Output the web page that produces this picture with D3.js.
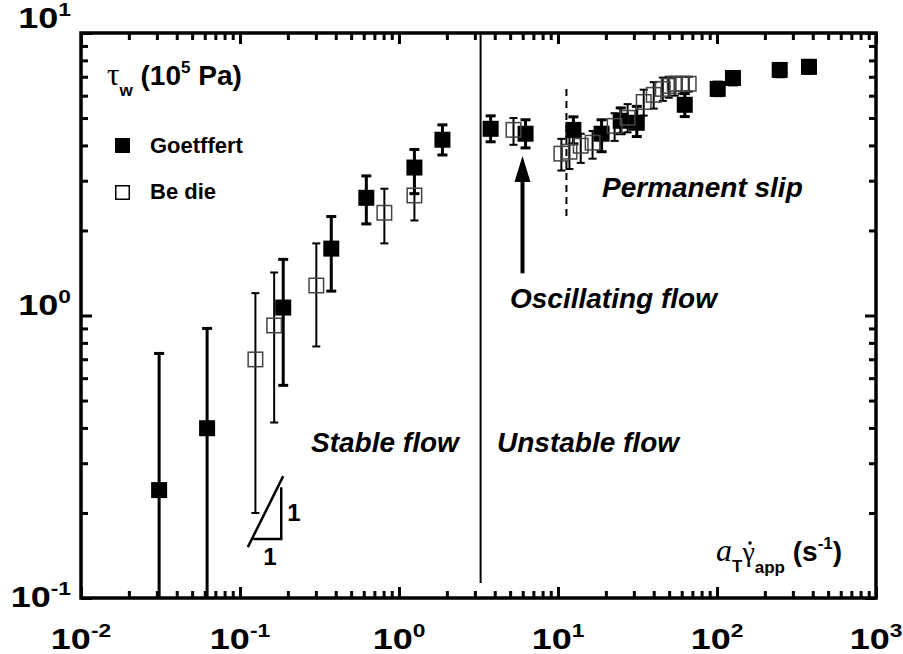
<!DOCTYPE html>
<html><head><meta charset="utf-8">
<script src="https://cdn.jsdelivr.net/npm/d3@7"></script>
<style>body{margin:0;background:#fff}svg{display:block}</style>
</head><body>
<svg id="c" width="903" height="654"></svg>
<script>
// ---------- data ----------
const xDomain = [0.01, 1000];
const yDomain = [0.1, 10];
const xTickExps = [-2, -1, 0, 1, 2, 3];
const yTickExps = [-1, 0, 1];

// Goetffert (filled squares)
const goetX  = [0.031, 0.0621, 0.187, 0.375, 0.623, 1.25, 1.876, 3.77, 6.25, 12.5, 18.8, 24.8, 31.3, 62.7, 101, 126, 248, 379];
const goetY  = [0.241, 0.399, 1.067, 1.725, 2.61, 3.34, 4.19, 4.58, 4.40, 4.54, 4.40, 4.89, 4.81, 5.57, 6.34, 6.93, 7.40, 7.59];
const goetLo = [0.05, 0.05, 0.566, 1.22, 2.11, 2.7, 3.7, 4.12, 3.92, 4.05, 3.8, 4.4, 4.3, 5.06, 6.0, 6.55, 7.0, 7.2];
const goetHi = [0.734, 0.90, 1.58, 2.24, 3.12, 3.87, 4.73, 5.09, 4.93, 5.05, 4.93, 5.43, 5.5, 6.1, 6.7, 7.3, 7.8, 8.0];

// Be die (open squares)
const bedieX  = [0.125, 0.164, 0.302, 0.809, 1.25, 5.25, 10.5, 11.8, 13.9, 16.5, 22.7, 27.4, 34.6, 40.0, 45.6, 49.7, 54.2, 60.0, 66.4];
const bedieY  = [0.699, 0.922, 1.277, 2.31, 2.66, 4.54, 3.74, 3.80, 3.99, 4.09, 4.69, 5.01, 5.70, 6.04, 6.34, 6.50, 6.61, 6.61, 6.61];
const bedieLo = [0.2, 0.418, 0.777, 1.80, 2.17, 4.02, 3.26, 3.3, 3.47, 3.59, 4.15, 4.45, 5.1, 5.4, 5.75, 5.9, 6.0, 6.1, 6.2];
const bedieHi = [1.2, 1.42, 1.80, 2.81, 3.2, 5.0, 4.22, 4.3, 4.4, 4.5, 5.2, 5.6, 6.3, 6.7, 6.95, 7.0, 7.0, 7.0, 7.0];

const seriesNames = ["Goetffert", "Be die"];
const regionLabels = ["Stable flow", "Unstable flow", "Oscillating flow", "Permanent slip"];

// annotation geometry (data coordinates)
const stableLimitX = 3.26, stableLimitY = [0.113, 10];
const slipLimitX = 11.3, slipLimitY = [2.25, 6.34];
const arrowX = 5.98, arrowFromY = 1.41, arrowToY = 3.67;
const slopeTriX = [0.112, 0.1211, 0.1817, 0.187];
const slopeTriY = [0.1514, 0.1616, 0.2467, 0.270];

// ---------- setup ----------
const svg = d3.select("#c");
const L = 81, R = 876, T = 33, B = 598;
const x = d3.scaleLog().domain(xDomain).range([L, R]);
const y = d3.scaleLog().domain(yDomain).range([B, T]);
const SANS = "'Liberation Sans', Arial, Helvetica, sans-serif";
const SERIF = "'Liberation Serif', 'Times New Roman', serif";

svg.append("rect").attr("width", 903).attr("height", 654).attr("fill", "#fff");
svg.append("defs").append("clipPath").attr("id", "clip")
  .append("rect").attr("x", L).attr("y", T).attr("width", R - L).attr("height", B - T);

function minors(dom) {
  const out = [];
  const a = Math.round(Math.log10(dom[0])), b = Math.round(Math.log10(dom[1]));
  for (let d = a; d < b; d++) for (let k = 2; k <= 9; k++) out.push(k * Math.pow(10, d));
  return out;
}
const xMaj = xTickExps.map(e => Math.pow(10, e));
const yMaj = yTickExps.map(e => Math.pow(10, e));

function tickAxis(axisFn, scale, vals, size, tr) {
  const g = svg.append("g").attr("transform", tr)
    .call(axisFn(scale).tickValues(vals).tickSize(-size).tickSizeOuter(0).tickFormat(""));
  g.select(".domain").remove();
  g.selectAll(".tick line").attr("stroke", "#000").attr("stroke-width", 3);
}
tickAxis(d3.axisBottom, x, xMaj, 11, `translate(0,${B})`);
tickAxis(d3.axisBottom, x, minors(xDomain), 7, `translate(0,${B})`);
tickAxis(d3.axisTop, x, xMaj, 11, `translate(0,${T})`);
tickAxis(d3.axisTop, x, minors(xDomain), 7, `translate(0,${T})`);
tickAxis(d3.axisLeft, y, yMaj, 11, `translate(${L},0)`);
tickAxis(d3.axisLeft, y, minors(yDomain), 7, `translate(${L},0)`);
tickAxis(d3.axisRight, y, yMaj, 11, `translate(${R},0)`);
tickAxis(d3.axisRight, y, minors(yDomain), 7, `translate(${R},0)`);

svg.append("rect").attr("x", L).attr("y", T).attr("width", R - L).attr("height", B - T)
  .attr("fill", "none").attr("stroke", "#000").attr("stroke-width", 3.5);

// tick labels
function powLabel(g, e, anchor) {
  const t = g.append("text").attr("font-family", SANS).attr("font-weight", "bold")
    .attr("font-size", 30).attr("text-anchor", anchor).attr("fill", "#000");
  t.append("tspan").text("10");
  t.append("tspan").attr("font-size", 19).attr("dy", -12).text(String(e));
}
xTickExps.forEach(e => {
  const g = svg.append("g").attr("transform", `translate(${x(Math.pow(10, e))},649) scale(1.2,1)`);
  powLabel(g, e, "middle");
});
const yLabOff = {"-1": 9, "0": -1, "1": -5};
yTickExps.forEach(e => {
  const g = svg.append("g").attr("transform", `translate(71,${y(Math.pow(10, e)) + yLabOff[e]}) scale(1.2,1)`);
  powLabel(g, e, "end");
});

// ---------- annotations ----------
svg.append("line").attr("x1", x(stableLimitX)).attr("x2", x(stableLimitX))
  .attr("y1", y(stableLimitY[0])).attr("y2", y(stableLimitY[1]))
  .attr("stroke", "#000").attr("stroke-width", 2);
svg.append("line").attr("x1", x(slipLimitX)).attr("x2", x(slipLimitX))
  .attr("y1", y(slipLimitY[0])).attr("y2", y(slipLimitY[1]))
  .attr("stroke", "#000").attr("stroke-width", 2).attr("stroke-dasharray", "7,5");

// arrow
const ax = x(arrowX), ay0 = y(arrowFromY), ay1 = y(arrowToY);
svg.append("line").attr("x1", ax).attr("x2", ax).attr("y1", ay0).attr("y2", ay1 + 20)
  .attr("stroke", "#000").attr("stroke-width", 4);
svg.append("path").attr("d", `M${ax},${ay1} L${ax - 8},${ay1 + 26} L${ax + 8},${ay1 + 26} Z`).attr("fill", "#000");

// slope triangle
svg.append("line").attr("x1", x(slopeTriX[0])).attr("y1", y(slopeTriY[0]))
  .attr("x2", x(slopeTriX[3])).attr("y2", y(slopeTriY[3])).attr("stroke", "#000").attr("stroke-width", 2.5);
svg.append("path").attr("d", `M${x(slopeTriX[1])},${y(slopeTriY[1])} L${x(slopeTriX[2])},${y(slopeTriY[1])} L${x(slopeTriX[2])},${y(slopeTriY[2])}`)
  .attr("fill", "none").attr("stroke", "#000").attr("stroke-width", 2.5);
svg.append("text").attr("x", x(slopeTriX[2]) + 6).attr("y", y(slopeTriY[1]) - 18)
  .attr("font-family", SANS).attr("font-weight", "bold").attr("font-size", 24).text("1");
svg.append("text").attr("x", x(slopeTriX[1]) + 10).attr("y", y(slopeTriY[1]) + 26)
  .attr("font-family", SANS).attr("font-weight", "bold").attr("font-size", 24).text("1");

// region labels
const regionPos = [[311, 452], [497, 452], [510, 308], [602, 197]];
regionLabels.forEach((s, i) => {
  svg.append("text").attr("x", regionPos[i][0]).attr("y", regionPos[i][1])
    .attr("font-family", SANS).attr("font-weight", "bold").attr("font-style", "italic")
    .attr("font-size", 28).text(s);
});

// ---------- data marks ----------
const plot = svg.append("g").attr("clip-path", "url(#clip)");
const goet = goetX.map((v, i) => ({x: v, y: goetY[i], lo: goetLo[i], hi: goetHi[i]}));
const bedie = bedieX.map((v, i) => ({x: v, y: bedieY[i], lo: bedieLo[i], hi: bedieHi[i]}));

function errBars(data, sw, cap) {
  const g = plot.append("g").attr("stroke", "#000").attr("stroke-width", sw);
  data.forEach(d => {
    const cx = x(d.x);
    g.append("line").attr("x1", cx).attr("x2", cx).attr("y1", y(d.lo)).attr("y2", y(d.hi));
    g.append("line").attr("x1", cx - cap).attr("x2", cx + cap).attr("y1", y(d.hi)).attr("y2", y(d.hi));
    g.append("line").attr("x1", cx - cap).attr("x2", cx + cap).attr("y1", y(d.lo)).attr("y2", y(d.lo));
  });
}
const S = 16;
errBars(goet, 3, 5);
plot.append("g").selectAll("rect").data(goet).join("rect")
  .attr("x", d => x(d.x) - S / 2).attr("y", d => y(d.y) - S / 2)
  .attr("width", S).attr("height", S).attr("fill", "#000");
errBars(bedie, 2, 4);
plot.append("g").selectAll("rect").data(bedie).join("rect")
  .attr("x", d => x(d.x) - S / 2 + 0.75).attr("y", d => y(d.y) - S / 2 + 0.75)
  .attr("width", S - 1.5).attr("height", S - 1.5).attr("fill", "none")
  .attr("stroke", "#444").attr("stroke-width", 1.5);

// ---------- legend ----------
svg.append("rect").attr("x", 115).attr("y", 138).attr("width", 15).attr("height", 15).attr("fill", "#000");
svg.append("rect").attr("x", 115.75).attr("y", 185.75).attr("width", 13.5).attr("height", 13.5)
  .attr("fill", "none").attr("stroke", "#000").attr("stroke-width", 1.5);
seriesNames.forEach((s, i) => {
  svg.append("text").attr("x", 150).attr("y", 153 + i * 46)
    .attr("font-family", SANS).attr("font-weight", "bold").attr("font-size", 22).text(s);
});

// ---------- axis titles ----------
const yt = svg.append("text").attr("x", 107).attr("y", 85).attr("font-family", SANS)
  .attr("font-weight", "bold").attr("font-size", 28);
yt.append("tspan").attr("font-family", SERIF).attr("font-weight", "normal").attr("font-size", 31).text("τ");
yt.append("tspan").attr("font-size", 17).attr("dy", 11).text("w");
yt.append("tspan").attr("dy", -11).text(" (10");
yt.append("tspan").attr("font-size", 17).attr("dy", -12).text("5");
yt.append("tspan").attr("dy", 12).text(" Pa)");

const xt = svg.append("text").attr("x", 716).attr("y", 561).attr("font-family", SANS)
  .attr("font-weight", "bold").attr("font-size", 28);
xt.append("tspan").attr("font-family", SERIF).attr("font-style", "italic").attr("font-weight", "normal").attr("font-size", 32).text("a");
xt.append("tspan").attr("font-size", 17).attr("dy", 11).text("T");
xt.append("tspan").attr("font-family", SERIF).attr("font-weight", "normal").attr("font-size", 28).attr("dy", -11).text("γ");
xt.append("tspan").attr("font-size", 17).attr("dy", 12).text("app");
xt.append("tspan").attr("dy", -12).text(" (s");
xt.append("tspan").attr("font-size", 17).attr("dy", -12).text("-1");
xt.append("tspan").attr("dy", 12).text(")");
// dot over gamma
svg.append("circle").attr("cx", 750).attr("cy", 543).attr("r", 1.8).attr("fill", "#000");
</script>
</body></html>
